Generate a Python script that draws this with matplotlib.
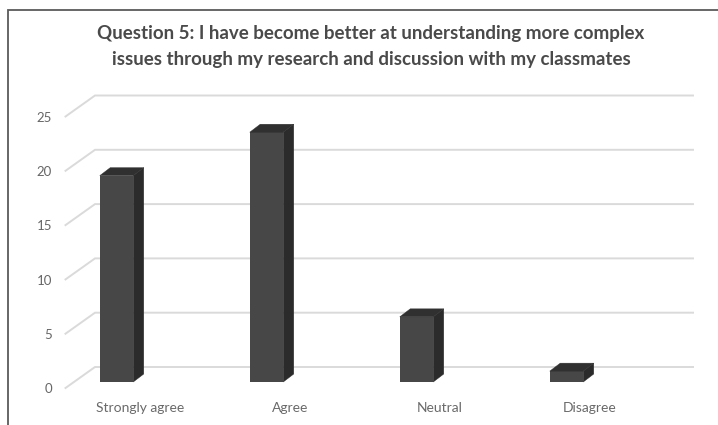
import matplotlib
matplotlib.use("Agg")
import matplotlib.pyplot as plt
from matplotlib.patches import Polygon

categories = ["Strongly agree", "Agree", "Neutral", "Disagree"]
values = [19, 23, 6, 1]
y_ticks = [0, 5, 10, 15, 20, 25]
title_lines = ["Question 5: I have become better at understanding more complex",
               "issues through my research and discussion with my classmates"]

W, H = 718, 425
PX_PER_CAT = 150.0
PX_PER_UNIT = 10.86
X0_PX, Y0_PX = 116.5, 382.0
BAR_W = 33.5 / PX_PER_CAT

# Oblique depth of the bars and of the floor/wall grid, in data units
DX = 10.5 / PX_PER_CAT
DY = 8.0 / PX_PER_UNIT
GRID_FRONT_DX, GRID_FRONT_DY = -51.0 / PX_PER_CAT, -6.0 / PX_PER_UNIT
GRID_KNEE_DX, GRID_KNEE_DY = -21.5 / PX_PER_CAT, 15.0 / PX_PER_UNIT
GRID_END_X = (693 - X0_PX) / PX_PER_CAT

fig = plt.figure(figsize=(W / 100, H / 100), dpi=100, facecolor="white")
ax = fig.add_axes([0, 0, 1, 1])
ax.set_xlim(-X0_PX / PX_PER_CAT, (W - X0_PX) / PX_PER_CAT)
ax.set_ylim((Y0_PX - H) / PX_PER_UNIT, Y0_PX / PX_PER_UNIT)
ax.axis("off")

# Outer frame: only the top and left edges are visible
ax.plot([1.0, 8 / W, 8 / W], [1 - 10 / H, 1 - 10 / H, 0], transform=ax.transAxes,
        color="#5a5a5a", lw=1.3, zorder=1, solid_joinstyle="miter", clip_on=False)

for v in y_ticks:
    ax.plot([GRID_FRONT_DX, GRID_KNEE_DX, GRID_END_X],
            [v + GRID_FRONT_DY, v + GRID_KNEE_DY, v + GRID_KNEE_DY],
            color="#dadada", lw=1.4, zorder=2, solid_joinstyle="miter")
    ax.text(-X0_PX / PX_PER_CAT + 52 / PX_PER_CAT, v - 7.2 / PX_PER_UNIT, str(v),
            ha="right", va="center", fontsize=9.5, family="Lato", color="#666666")

for i, (name, val) in enumerate(zip(categories, values)):
    l, r = i - BAR_W / 2, i + BAR_W / 2
    ax.bar(i, val, width=BAR_W, color="#474747", linewidth=0, zorder=4)
    ax.add_patch(Polygon([(r, 0), (r + DX, DY), (r + DX, val + DY), (r, val)],
                         closed=True, fc="#2b2b2b", ec="#2b2b2b", lw=0.3, zorder=4))
    ax.add_patch(Polygon([(l, val), (l + DX, val + DY), (r + DX, val + DY), (r, val)],
                         closed=True, fc="#303030", ec="#303030", lw=0.3, zorder=4))
    ax.text(i + 23.5 / PX_PER_CAT, -26 / PX_PER_UNIT, name, ha="center", va="center",
            fontsize=10, family="Lato", color="#6a6a6a")

for line, py in zip(title_lines, (33, 59)):
    ax.text(371 / W, 1 - py / H, line, transform=ax.transAxes, ha="center", va="center",
            fontsize=13.5, family="Lato", fontweight="bold", color="#4a4a4a")

fig.savefig("out.png", dpi=100, facecolor="white")
